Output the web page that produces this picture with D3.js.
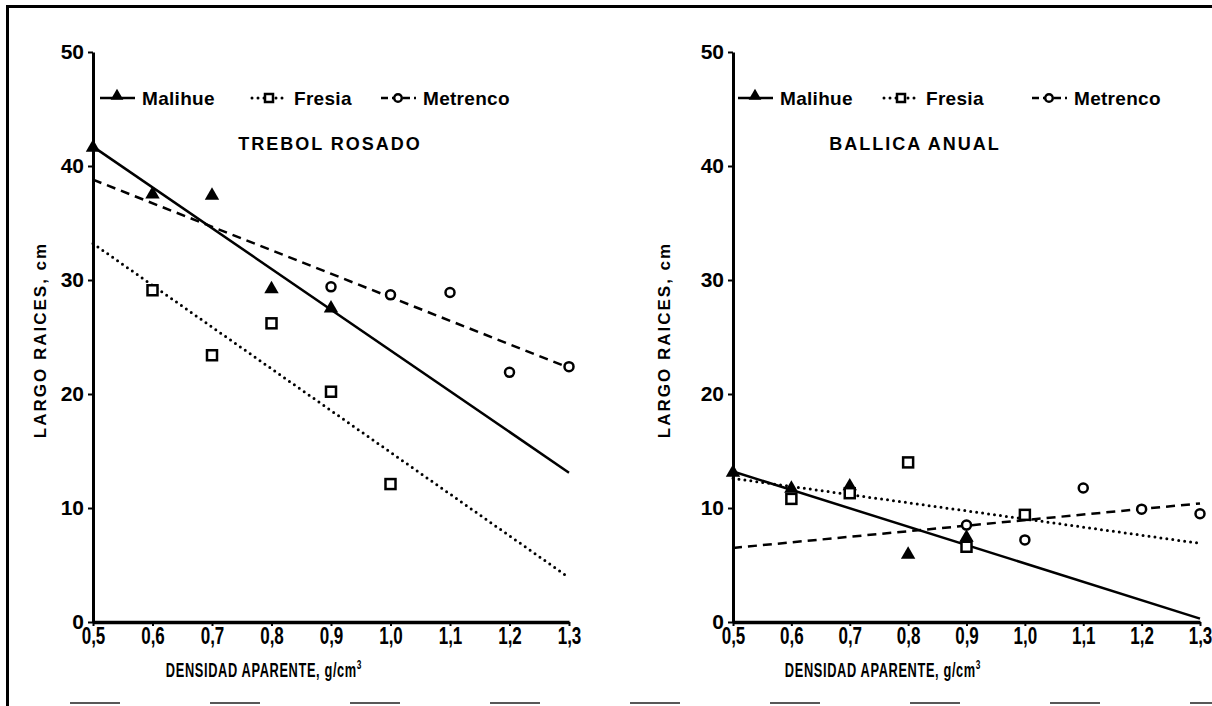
<!DOCTYPE html>
<html lang="es">
<head>
<meta charset="utf-8">
<script src="https://d3js.org/d3.v7.min.js"></script>
<style>
  body { margin: 0; background: #fff; }
  svg { display: block; font-family: "Liberation Sans", Arial, sans-serif; font-weight: bold; }
  .tick text { fill: #000; }
</style>
</head>
<body>
<div id="chart"></div>
<script>
// densidad aparente (g/cm3), tick labels of the x axis
var densidad = [0.5, 0.6, 0.7, 0.8, 0.9, 1.0, 1.1, 1.2, 1.3];
var largoTicks = [0, 10, 20, 30, 40, 50];

// TREBOL ROSADO
var trebolMalihueX = [0.5, 0.6, 0.7, 0.8, 0.9];
var trebolMalihueY = [41.7, 37.6, 37.5, 29.3, 27.6];
var trebolFresiaX = [0.6, 0.7, 0.8, 0.9, 1.0];
var trebolFresiaY = [29.1, 23.4, 26.2, 20.2, 12.1];
var trebolMetrencoX = [0.9, 1.0, 1.1, 1.2, 1.3];
var trebolMetrencoY = [29.4, 28.7, 28.9, 21.9, 22.4];
// fitted lines, value at 0.5 and at 1.3
var trebolFitMalihue = [41.7, 13.1];
var trebolFitFresia = [33.2, 3.9];
var trebolFitMetrenco = [38.8, 22.3];

// BALLICA ANUAL
var ballicaMalihueX = [0.5, 0.6, 0.7, 0.8, 0.9];
var ballicaMalihueY = [13.2, 11.8, 12.0, 6.0, 7.5];
var ballicaFresiaX = [0.6, 0.7, 0.8, 0.9, 1.0];
var ballicaFresiaY = [10.8, 11.3, 14.0, 6.6, 9.4];
var ballicaMetrencoX = [0.9, 1.0, 1.1, 1.2, 1.3];
var ballicaMetrencoY = [8.5, 7.2, 11.75, 9.9, 9.5];
var ballicaFitMalihue = [13.2, 0.3];
var ballicaFitFresia = [12.6, 6.9];
var ballicaFitMetrenco = [6.5, 10.4];

var fitX = [0.5, 1.3];

var width = 1212, height = 706;

var svg = d3.select('#chart').append('svg')
  .attr('width', width)
  .attr('height', height);

// scanned frame
svg.append('path')
  .attr('d', 'M7.5,706 V6.5 H1212')
  .attr('fill', 'none')
  .attr('stroke', '#000')
  .attr('stroke-width', 3);
svg.append('line')
  .attr('x1', 70).attr('x2', 1212).attr('y1', 703).attr('y2', 703)
  .attr('stroke', '#222').attr('stroke-width', 1.5)
  .attr('stroke-dasharray', '50,90');

var styles = {
  Malihue: { dash: null, cap: 'butt', marker: 'triangle' },
  Fresia: { dash: '0,6', cap: 'round', marker: 'square' },
  Metrenco: { dash: '9,6', cap: 'butt', marker: 'circle' }
};

function drawMarker(g, type, cx, cy) {
  if (type === 'triangle') {
    g.append('path')
      .attr('d', d3.symbol().type(d3.symbolTriangle).size(90)())
      .attr('transform', 'translate(' + cx + ',' + (cy + 1) + ')')
      .attr('fill', '#000');
  } else if (type === 'square') {
    g.append('rect')
      .attr('x', cx - 5).attr('y', cy - 5)
      .attr('width', 10).attr('height', 10)
      .attr('fill', '#fff').attr('stroke', '#000').attr('stroke-width', 2.5);
  } else {
    g.append('circle')
      .attr('cx', cx).attr('cy', cy).attr('r', 4.5)
      .attr('fill', '#fff').attr('stroke', '#000').attr('stroke-width', 2.5);
  }
}

function panel(opts) {
  var x = d3.scaleLinear().domain([0.5, 1.3]).range([opts.x0, opts.x1]);
  var y = d3.scaleLinear().domain([0, 50]).range([622, 52]);
  var g = svg.append('g');

  // y axis
  var ya = g.append('g')
    .attr('transform', 'translate(' + opts.x0 + ',0)')
    .call(d3.axisLeft(y).tickValues(largoTicks).tickSize(5).tickSizeOuter(0).tickPadding(4).tickFormat(d3.format('d')));
  ya.select('.domain').attr('stroke-width', 3);
  ya.selectAll('.tick line').attr('stroke-width', 2);
  ya.selectAll('.tick text').style('font-size', '21px');

  // x axis
  var xa = g.append('g')
    .attr('transform', 'translate(0,622)')
    .call(d3.axisBottom(x).tickValues(densidad).tickSize(4).tickSizeOuter(0).tickPadding(2)
      .tickFormat(function (d) { return d.toFixed(1).replace('.', ','); }));
  xa.select('.domain').attr('stroke-width', 3.5);
  xa.selectAll('.tick line').attr('stroke-width', 2);
  xa.selectAll('.tick text')
    .style('font-size', '23px')
    .attr('transform', 'scale(0.74,1)');

  // axis titles
  g.append('text')
    .attr('transform', 'translate(' + opts.yLabelX + ',340) rotate(-90)')
    .attr('text-anchor', 'middle')
    .style('font-size', '17px')
    .style('letter-spacing', '2px')
    .text('LARGO RAICES, cm');
  var xt = g.append('text')
    .attr('transform', 'translate(' + opts.xLabelX + ',677) scale(0.64,1)')
    .attr('text-anchor', 'middle')
    .style('font-size', '20px')
    .style('letter-spacing', '1px')
    .text('DENSIDAD APARENTE, g/cm');
  xt.append('tspan').attr('dy', -8).style('font-size', '13px').text('3');

  // title
  g.append('text')
    .attr('x', opts.titleX).attr('y', 150)
    .attr('text-anchor', 'middle')
    .style('font-size', '18px')
    .style('letter-spacing', '2px')
    .text(opts.title);

  // fitted lines
  var line = d3.line().x(function (d) { return x(d[0]); }).y(function (d) { return y(d[1]); });
  opts.series.forEach(function (s) {
    var st = styles[s.name];
    g.append('path')
      .datum(d3.zip(fitX, s.fit))
      .attr('d', line)
      .attr('fill', 'none')
      .attr('stroke', '#000')
      .attr('stroke-width', s.name === 'Fresia' ? 3 : 2.5)
      .attr('stroke-linecap', st.cap)
      .attr('stroke-dasharray', st.dash);
  });

  // points
  opts.series.forEach(function (s) {
    var st = styles[s.name];
    d3.zip(s.xs, s.ys).forEach(function (p) {
      drawMarker(g, st.marker, x(p[0]), y(p[1]));
    });
  });

  // legend
  opts.legend.forEach(function (l) {
    var st = styles[l.name];
    var lg = g.append('g');
    lg.append('line')
      .attr('x1', l.x).attr('x2', l.x + 35)
      .attr('y1', 98).attr('y2', 98)
      .attr('stroke', '#000')
      .attr('stroke-width', l.name === 'Fresia' ? 3 : 2.5)
      .attr('stroke-linecap', st.cap)
      .attr('stroke-dasharray', l.name === 'Metrenco' ? '7,4' : st.dash);
    if (st.marker === 'triangle') {
      lg.append('path')
        .attr('d', d3.symbol().type(d3.symbolTriangle).size(70)())
        .attr('transform', 'translate(' + (l.x + 17) + ',96)')
        .attr('fill', '#000');
    } else if (st.marker === 'square') {
      lg.append('rect')
        .attr('x', l.x + 13).attr('y', 94).attr('width', 8).attr('height', 8)
        .attr('fill', '#fff').attr('stroke', '#000').attr('stroke-width', 2.5);
    } else {
      lg.append('circle')
        .attr('cx', l.x + 17).attr('cy', 98).attr('r', 3.8)
        .attr('fill', '#fff').attr('stroke', '#000').attr('stroke-width', 2.5);
    }
    lg.append('text')
      .attr('x', l.x + 42).attr('y', 105)
      .style('font-size', '19px')
      .style('letter-spacing', '0.3px')
      .text(l.name);
  });
}

panel({
  x0: 93, x1: 569, title: 'TREBOL ROSADO', titleX: 330, yLabelX: 46, xLabelX: 264,
  legend: [{ name: 'Malihue', x: 100 }, { name: 'Fresia', x: 252 }, { name: 'Metrenco', x: 381 }],
  series: [
    { name: 'Malihue', xs: trebolMalihueX, ys: trebolMalihueY, fit: trebolFitMalihue },
    { name: 'Fresia', xs: trebolFresiaX, ys: trebolFresiaY, fit: trebolFitFresia },
    { name: 'Metrenco', xs: trebolMetrencoX, ys: trebolMetrencoY, fit: trebolFitMetrenco }
  ]
});

panel({
  x0: 733, x1: 1200, title: 'BALLICA ANUAL', titleX: 915, yLabelX: 670, xLabelX: 883,
  legend: [{ name: 'Malihue', x: 738 }, { name: 'Fresia', x: 884 }, { name: 'Metrenco', x: 1032 }],
  series: [
    { name: 'Malihue', xs: ballicaMalihueX, ys: ballicaMalihueY, fit: ballicaFitMalihue },
    { name: 'Fresia', xs: ballicaFresiaX, ys: ballicaFresiaY, fit: ballicaFitFresia },
    { name: 'Metrenco', xs: ballicaMetrencoX, ys: ballicaMetrencoY, fit: ballicaFitMetrenco }
  ]
});
</script>
</body>
</html>
